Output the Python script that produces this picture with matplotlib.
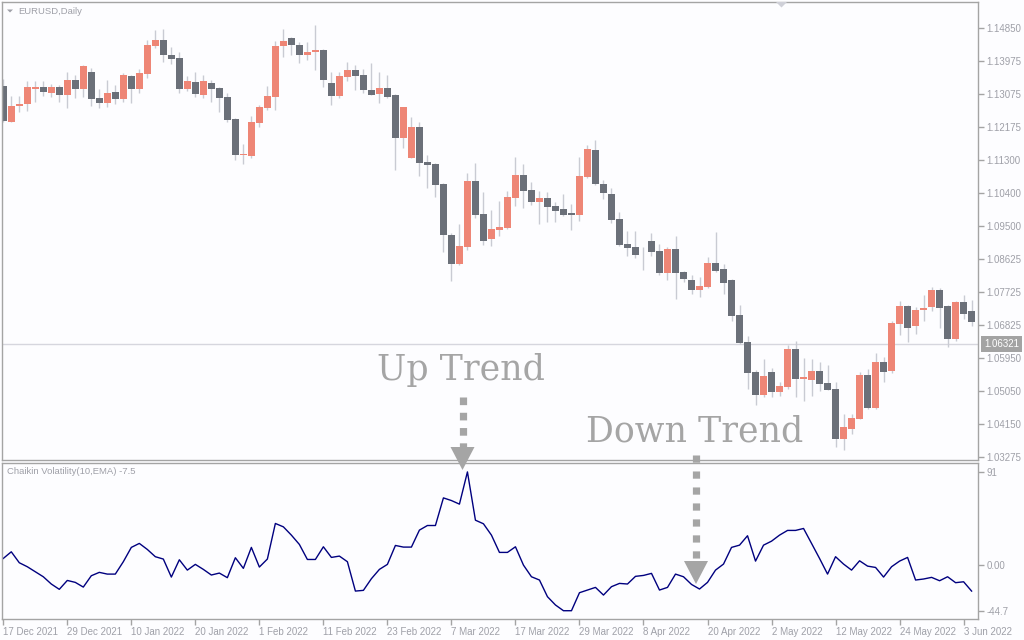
import numpy as np
import matplotlib
matplotlib.use("Agg")
import matplotlib.pyplot as plt
from matplotlib.patches import Polygon
import matplotlib.transforms as mtransforms

# EURUSD daily candles
opens = [
    1.13292, 1.12320, 1.12752, 1.12806, 1.13211, 1.13265, 1.13103, 1.13265, 1.13049, 1.13454,
    1.13211, 1.13670, 1.12968, 1.12833, 1.13130, 1.12941, 1.13562, 1.13211, 1.13616, 1.14372,
    1.14534, 1.14129, 1.14048, 1.13211, 1.13400, 1.13049, 1.13373, 1.13238, 1.12995, 1.12401,
    1.11429, 1.11402, 1.12293, 1.12698, 1.12995, 1.14372, 1.14588, 1.14399, 1.14129, 1.14210,
    1.14264, 1.13373, 1.13022, 1.13535, 1.13724, 1.13589, 1.13184, 1.13076, 1.13238, 1.13049,
    1.11888, 1.11348, 1.12185, 1.11240, 1.11186, 1.10646, 1.09269, 1.08486, 1.08945, 1.10727,
    1.09838, 1.09163, 1.09406, 1.09460, 1.10270, 1.10891, 1.10486, 1.10162, 1.10270, 1.10054,
    1.09973, 1.09865, 1.09811, 1.10837, 1.11566, 1.10648, 1.10378, 1.09703, 1.09028, 1.08947,
    1.08758, 1.09109, 1.08839, 1.08245, 1.08893, 1.08272, 1.08056, 1.07786, 1.07867, 1.08515,
    1.08353, 1.08056, 1.07111, 1.06382, 1.05572, 1.04951, 1.05572, 1.05032, 1.05167, 1.06193,
    1.05383, 1.05356, 1.05599, 1.05275, 1.05113, 1.03763, 1.04033, 1.04303, 1.05491, 1.04600,
    1.05842, 1.05599, 1.06868, 1.07354, 1.06814, 1.07246, 1.07327, 1.07786, 1.07354, 1.06463,
    1.07462, 1.07219]
highs = [
    1.13481, 1.13022, 1.13022, 1.13427, 1.13427, 1.13427, 1.13346, 1.13319, 1.13670, 1.13589,
    1.13859, 1.13778, 1.13211, 1.13454, 1.13319, 1.13643, 1.13589, 1.13751, 1.14534, 1.14804,
    1.14831, 1.14345, 1.14210, 1.13562, 1.13670, 1.13589, 1.13454, 1.13265, 1.13103, 1.12428,
    1.11726, 1.12482, 1.12779, 1.13292, 1.14507, 1.14831, 1.14615, 1.14480, 1.14480, 1.14939,
    1.14291, 1.13670, 1.13670, 1.13940, 1.13859, 1.13751, 1.13913, 1.13670, 1.13589, 1.13076,
    1.12735, 1.12455, 1.12320, 1.11429, 1.11213, 1.10673, 1.09323, 1.09566, 1.10943, 1.11213,
    1.10432, 1.09946, 1.10189, 1.10459, 1.11377, 1.11188, 1.10702, 1.10459, 1.10432, 1.10162,
    1.10378, 1.10108, 1.11377, 1.11701, 1.11836, 1.10756, 1.10540, 1.09892, 1.09379, 1.09379,
    1.08947, 1.09325, 1.09028, 1.08947, 1.09244, 1.08299, 1.08191, 1.08137, 1.08677, 1.09352,
    1.08488, 1.08083, 1.07381, 1.06544, 1.05626, 1.05923, 1.05680, 1.05302, 1.06301, 1.06409,
    1.05950, 1.05923, 1.05842, 1.05761, 1.05302, 1.04438, 1.04438, 1.05572, 1.05653, 1.06085,
    1.05977, 1.06949, 1.07489, 1.07381, 1.07327, 1.07651, 1.07867, 1.07840, 1.07381, 1.07489,
    1.07651, 1.07516]
lows = [
    1.12329, 1.12310, 1.12590, 1.12617, 1.12860, 1.13022, 1.12995, 1.12860, 1.12698, 1.12968,
    1.12995, 1.12752, 1.12698, 1.12725, 1.12806, 1.12860, 1.12833, 1.13103, 1.13508, 1.14318,
    1.13940, 1.13886, 1.13103, 1.13157, 1.12995, 1.12968, 1.12860, 1.12590, 1.12320, 1.11294,
    1.11186, 1.11348, 1.12185, 1.12644, 1.12644, 1.14075, 1.14129, 1.13913, 1.13994, 1.13724,
    1.13265, 1.12779, 1.12968, 1.13427, 1.13184, 1.13103, 1.13040, 1.12833, 1.12968, 1.11024,
    1.11618, 1.11340, 1.10862, 1.10538, 1.10295, 1.08810, 1.08027, 1.08459, 1.08864, 1.09728,
    1.09001, 1.08974, 1.09244, 1.09433, 1.10054, 1.10000, 1.10081, 1.09568, 1.09622, 1.09622,
    1.09784, 1.09406, 1.09649, 1.10810, 1.10621, 1.10243, 1.09595, 1.08974, 1.08704, 1.08650,
    1.08326, 1.08704, 1.08191, 1.08056, 1.07543, 1.08002, 1.07678, 1.07597, 1.07840, 1.08272,
    1.07678, 1.06949, 1.06328, 1.05113, 1.04681, 1.04897, 1.04897, 1.04924, 1.05113, 1.04897,
    1.04789, 1.04924, 1.05059, 1.05080, 1.03547, 1.03466, 1.03898, 1.04290, 1.04573, 1.04573,
    1.05302, 1.05545, 1.06571, 1.06382, 1.06598, 1.06949, 1.07219, 1.06760, 1.06247, 1.06409,
    1.07003, 1.06814]
closes = [
    1.12347, 1.12752, 1.12806, 1.13265, 1.13265, 1.13130, 1.13265, 1.13049, 1.13454, 1.13211,
    1.13832, 1.12941, 1.12833, 1.13103, 1.12941, 1.13589, 1.13211, 1.13643, 1.14399, 1.14534,
    1.14129, 1.14021, 1.13211, 1.13427, 1.13076, 1.13427, 1.13211, 1.12968, 1.12374, 1.11429,
    1.11456, 1.12320, 1.12725, 1.13022, 1.14372, 1.14507, 1.14399, 1.14129, 1.14210, 1.14264,
    1.13454, 1.13022, 1.13562, 1.13724, 1.13562, 1.13184, 1.13049, 1.13238, 1.12995, 1.11888,
    1.12725, 1.12185, 1.11213, 1.11159, 1.10619, 1.09269, 1.08486, 1.08972, 1.10727, 1.09809,
    1.09109, 1.09433, 1.09487, 1.10297, 1.10891, 1.10459, 1.10162, 1.10270, 1.10027, 1.09919,
    1.09811, 1.09811, 1.10864, 1.11593, 1.10648, 1.10405, 1.09676, 1.09001, 1.08920, 1.08731,
    1.08740, 1.08812, 1.08245, 1.08893, 1.08245, 1.08083, 1.07786, 1.07894, 1.08515, 1.08299,
    1.07975, 1.07084, 1.06355, 1.05545, 1.04951, 1.05464, 1.05032, 1.05194, 1.06193, 1.05383,
    1.05437, 1.05599, 1.05248, 1.05086, 1.03763, 1.04087, 1.04330, 1.05491, 1.04600, 1.05842,
    1.05572, 1.06895, 1.07354, 1.06760, 1.07246, 1.07300, 1.07786, 1.07300, 1.06463, 1.07462,
    1.07138, 1.06922]

# Chaikin Volatility(10, EMA)
chaikin = [
    6.4, 12.9, 2.2, -1.7, -6.6, -11.5, -18.6, -23.8, -15.1, -17.0,
    -21.6, -10.5, -7.2, -8.9, -8.9, 3.2, 17.2, 21.1, 15.2, 8.1,
    5.8, -11.8, 5.1, -5.0, 0.6, -4.3, -9.8, -7.9, -12.4, 7.1,
    -3.3, 17.2, -2.0, 5.8, 40.6, 37.3, 29.2, 20.1, 5.4, 5.4,
    17.8, 7.4, 8.7, 3.2, -25.5, -24.8, -13.4, -4.3, 0.6, 19.1,
    17.5, 17.5, 34.1, 38.6, 38.6, 65.6, 63.0, 59.5, 91.0, 43.8,
    40.3, 29.2, 12.3, 12.3, 17.8, -0.1, -11.5, -14.7, -31.0, -39.1,
    -44.7, -44.7, -27.1, -24.5, -21.9, -29.4, -21.2, -18.0, -18.6, -11.1,
    -10.2, -8.2, -24.5, -21.9, -8.9, -11.5, -19.0, -23.5, -17.0, -5.0,
    0.9, 17.2, 19.4, 28.6, 3.8, 19.4, 23.3, 29.2, 33.8, 33.8,
    35.7, 21.1, 6.4, -8.9, 8.1, 0.9, -5.0, 4.1, -1.1, -2.4,
    -11.8, -1.7, 3.8, 7.4, -14.7, -13.7, -12.1, -15.4, -11.5, -17.3,
    -16.4, -25.5]

price_ticks = [1.14850, 1.13975, 1.13075, 1.12175, 1.11300, 1.10400, 1.09500,
               1.08625, 1.07725, 1.06825, 1.05950, 1.05050, 1.04150, 1.03275]
ind_ticks = [91, 0, -44.7]
ind_tick_labels = ["91", "0.00", "-44.7"]
date_labels = ["17 Dec 2021", "29 Dec 2021", "10 Jan 2022", "20 Jan 2022", "1 Feb 2022",
               "11 Feb 2022", "23 Feb 2022", "7 Mar 2022", "17 Mar 2022", "29 Mar 2022",
               "8 Apr 2022", "20 Apr 2022", "2 May 2022", "12 May 2022", "24 May 2022",
               "3 Jun 2022"]
last_price = 1.06321

bull_col = "#ee8676"
bear_col = "#6b7079"
wick_col = "#c9cbd3"
frame_col = "#a4a4a4"
text_col = "#9fa0a8"
bg = "#fdfdff"

plt.rcParams["font.family"] = ["Liberation Sans", "DejaVu Sans"]
plt.rcParams["lines.scale_dashes"] = False

W, H = 1024, 640
fig = plt.figure(figsize=(W / 100, H / 100), dpi=100, facecolor=bg)


def rect(x0, y0, x1, y1):
    return [x0 / W, 1 - y1 / H, (x1 - x0) / W, (y1 - y0) / H]


ax = fig.add_axes(rect(2, 2.3, 978, 459.5))
ax2 = fig.add_axes(rect(2, 462.5, 978, 619))

o = np.array(opens)
c = np.array(closes)
x = np.arange(len(o))
up = c >= o

# candles
ax.vlines(x, lows, highs, color=wick_col, lw=1, zorder=1)
body_lo = np.minimum(o, c)
body_h = np.maximum(np.abs(c - o), 0.00025)
ax.bar(x, body_h, bottom=body_lo, width=0.84,
       color=np.where(up, bull_col, bear_col), linewidth=0, zorder=2)
ax.axhline(last_price, color="#d6d6de", lw=1, zorder=0)

ax.set_xlim(-0.16, 121.8)
ax.set_ylim(1.03202, 1.15551)
ax.set_facecolor(bg)
ax.set_xticks([])
ax.yaxis.tick_right()
ax.set_yticks(price_ticks)
ax.set_yticklabels(["%.5f" % p for p in price_ticks])
ax.tick_params(axis="y", direction="out", length=4, width=1, color=frame_col,
               labelsize=7, labelcolor=text_col, pad=2)
for s in ax.spines.values():
    s.set_color(frame_col)
    s.set_linewidth(1.0)

# current price box
tr = mtransforms.blended_transform_factory(ax.transAxes, ax.transData)
ax.text(1.0065, last_price, "%.5f" % last_price, transform=tr, ha="left", va="center",
        fontsize=7, color="white", clip_on=False,
        bbox=dict(boxstyle="square,pad=0.3", facecolor="#a3a3a3", edgecolor="none"))

# indicator
ax2.plot(x, chaikin, color="#00007f", lw=1)
ax2.set_xlim(-0.16, 121.8)
ax2.set_ylim(-52.8, 100.2)
ax2.set_facecolor(bg)
ax2.yaxis.tick_right()
ax2.set_yticks(ind_ticks)
ax2.set_yticklabels(ind_tick_labels)
ax2.set_xticks(range(0, 8 * len(date_labels), 8))
ax2.set_xticklabels(date_labels)
for lbl in ax2.get_xticklabels():
    lbl.set_horizontalalignment("left")
ax2.tick_params(direction="out", length=4, width=1, color=frame_col,
                labelsize=7, labelcolor=text_col, pad=2)
for s in ax2.spines.values():
    s.set_color(frame_col)
    s.set_linewidth(1.0)

fig.text(7 / W, 1 - 472 / H, "Chaikin Volatility(10,EMA) -7.5", fontsize=6.8,
         color=text_col, va="center")
fig.text(18 / W, 1 - 11 / H, "EURUSD,Daily", fontsize=6.8, color=text_col, va="center")

# overlay for annotations, in pixel coordinates
ov = fig.add_axes([0, 0, 1, 1], zorder=10)
ov.set_xlim(0, W)
ov.set_ylim(H, 0)
ov.axis("off")
ov.patch.set_alpha(0)

ov.add_patch(Polygon([[7, 9.5], [13, 9.5], [10, 12.5]], closed=True, color=text_col, lw=0))
ov.add_patch(Polygon([[776, 2], [787, 2], [781.5, 7.5]], closed=True, color="#cfd0d8", lw=0))

arrow_col = "#a5a5a5"
ov.text(461, 380, "Up Trend", ha="center", va="baseline", fontsize=25,
        family="DejaVu Serif", color=arrow_col)
ov.text(695, 441, "Down Trend", ha="center", va="baseline", fontsize=25,
        family="DejaVu Serif", color=arrow_col)

ov.plot([462.5, 462.5], [397, 447], color=arrow_col, lw=5.2, solid_capstyle="butt",
        dash_capstyle="butt", linestyle=(0, (5.5, 5.5)))
ov.add_patch(Polygon([[450.5, 447], [474.5, 447], [462.5, 470]], closed=True,
                     color=arrow_col, lw=0))
ov.plot([696, 696], [455, 560], color=arrow_col, lw=5.2, solid_capstyle="butt",
        dash_capstyle="butt", linestyle=(0, (5.2, 6.3)))
ov.add_patch(Polygon([[684, 561], [708, 561], [696, 584]], closed=True,
                     color=arrow_col, lw=0))

fig.savefig("out.png", dpi=100, facecolor=bg)
